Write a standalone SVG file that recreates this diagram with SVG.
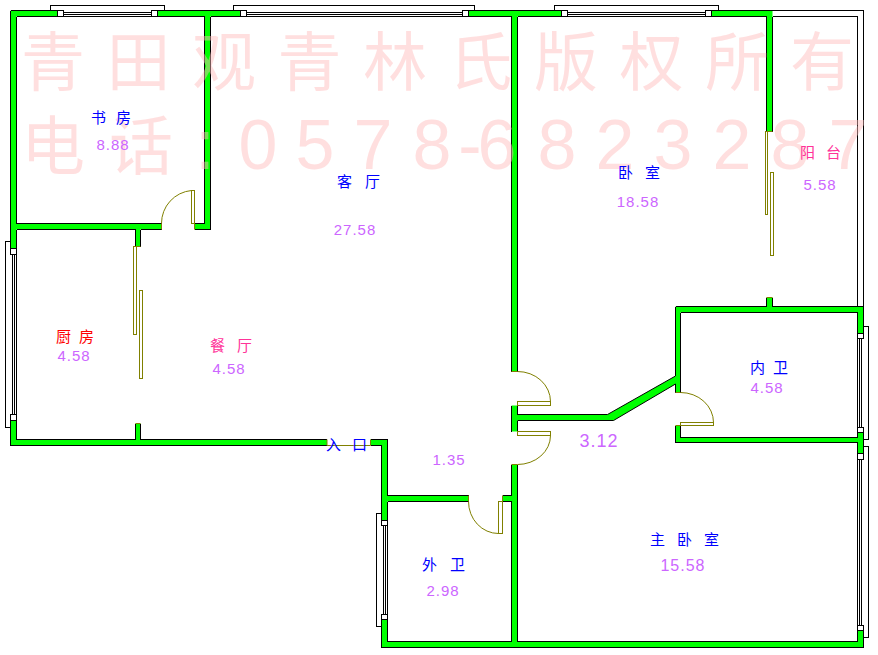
<svg xmlns="http://www.w3.org/2000/svg" width="878" height="655" viewBox="0 0 878 655">
<style>
.g{fill:#00ff00}
.k{fill:none;stroke:#000;stroke-width:1;shape-rendering:crispEdges}
.s{fill:#fff;stroke:#000;stroke-width:1;shape-rendering:crispEdges}
.d{fill:none;stroke:#808000;stroke-width:1}
.wm{fill:#ffbdbd;opacity:.47;text-anchor:middle}
.cj{font-family:"Noto Sans CJK SC","Liberation Sans",sans-serif;font-size:64px}
.la{font-family:"Liberation Sans",sans-serif;font-size:70px}
.t{font-family:"Noto Sans CJK SC",sans-serif;font-size:15px}
.n{font-family:"Liberation Sans",sans-serif;font-size:15px;fill:#cc66ff;text-anchor:middle;letter-spacing:1px}
.b{fill:#0000ff}.r{fill:#ff0000}.p{fill:#ff3399}
</style>
<rect width="878" height="655" fill="#fff"/>
<g id="walls">
<path class="g" d="M10.5 10.5H57.5V16.5H10.5ZM157.5 10.5H240.5V16.5H157.5ZM468.5 10.5H561.5V16.5H468.5ZM711.5 10.5H772.5V16.5H711.5ZM10.5 10.5H16.5V248.5H10.5ZM10.5 420.5H16.5V445.5H10.5ZM204.5 10.5H210.5V229.5H204.5ZM10.5 223.5H161.5V229.5H10.5ZM194.5 223.5H210.5V229.5H194.5ZM135.5 229.5H140.5V246.5H135.5ZM135.5 423.5H140.5V439.5H135.5ZM10.5 439.5H327V445.5H10.5ZM370.5 439.5H387.5V445.5H370.5ZM381.5 439.5H387.5V520.5H381.5ZM381.5 619.5H387.5V647.5H381.5ZM387.5 495.5H468.5V501.5H387.5ZM502.5 495.5H511.5V501.5H502.5ZM511.5 10.5H517.5V371.5H511.5ZM511.5 405.5H517.5V431.5H511.5ZM511.5 464.5H517.5V647.5H511.5ZM517.5 414.5H607.5L675.5 376V384L613.5 420.5H517.5ZM381.5 641.5H863.5V647.5H381.5ZM675.5 306.5H680.5V392.5H675.5ZM675.5 425.5H680.5V442.5H675.5ZM675.5 306.5H863.5V312.5H675.5ZM766.5 297.5H772.5V306.5H766.5ZM857.5 306.5H863.5V333.5H857.5ZM857.5 432.5H863.5V453.5H857.5ZM857.5 630.5H863.5V647.5H857.5ZM675.5 437.5H863.5V442.5H675.5ZM766.5 10.5H772.5V131.5H766.5Z"/>
<path class="k" d="M10.5 10.5H57.5M157.5 10.5H240.5M468.5 10.5H561.5M711.5 10.5H863.5M16.5 16.5H204.5M210.5 16.5H511.5M517.5 16.5H766.5M772.5 16.5H857.5M10.5 10.5V248.5M10.5 420.5V445.5M16.5 16.5V223.5M16.5 229.5V439.5M204.5 16.5V223.5M210.5 16.5V229.5M16.5 223.5H161.5M194.5 223.5H204.5M16.5 229.5H135.5M140.5 229.5H161.5M194.5 229.5H210.5M135.5 229.5V246.5M140.5 229.5V246.5M135.5 423.5V439.5M140.5 423.5V439.5M16.5 439.5H135.5M140.5 439.5H327M370.5 439.5H387.5M10.5 445.5H327M370.5 445.5H381.5M387.5 439.5V495.5M387.5 501.5V641.5M381.5 445.5V520.5M381.5 619.5V647.5M387.5 495.5H468.5M502.5 495.5H511.5M387.5 501.5H468.5M502.5 501.5H511.5M511.5 16.5V371.5M511.5 405.5V431.5M511.5 464.5V495.5M511.5 501.5V641.5M517.5 16.5V371.5M517.5 405.5V414.5M517.5 420.5V431.5M517.5 464.5V641.5M675.5 306.5V376M675.5 384V392.5M675.5 425.5V442.5M680.5 312.5V392.5M680.5 425.5V437.5M675.5 306.5H766.5M772.5 306.5H863.5M680.5 312.5H857.5M680.5 437.5H857.5M675.5 442.5H857.5M857.5 16.5V306.5M857.5 312.5V437.5M857.5 442.5V641.5M863.5 10.5V333.5M863.5 432.5V453.5M863.5 630.5V647.5M387.5 641.5H511.5M517.5 641.5H857.5M381.5 647.5H863.5M766.5 16.5V131.5M772.5 16.5V131.5M766.5 297.5V306.5M772.5 297.5V306.5"/>
<path d="M517.5 414.5H607.5L675.5 376M517.5 420.5H613.5L675.5 384" fill="none" stroke="#000" stroke-width="1"/>
</g>
<g id="windows">
<path class="k" d="M50.5 10.5V5.5H164.5V10.5M233.5 10.5V5.5H474.5V10.5M554.5 10.5V5.5H718.5V10.5M63.5 12.5H151.5M63.5 14.5H151.5M246.5 12.5H462.5M246.5 14.5H462.5M567.5 12.5H705.5M567.5 14.5H705.5M10.5 241.5H5.5V427.5H10.5M12.5 254.5V414.5M14.5 254.5V414.5M381.5 513.5H376.5V626.5H381.5M383.5 525.5V614.5M385.5 525.5V614.5M863.5 326.5H868.5V439.5H863.5M863.5 446.5H868.5V637.5H863.5M859.5 338.5V427.5M861.5 338.5V427.5M859.5 459.5V625.5M861.5 459.5V625.5"/>
<rect class="s" x="57.5" y="10.5" width="6" height="6"/>
<rect class="s" x="151.5" y="10.5" width="6" height="6"/>
<rect class="s" x="240.5" y="10.5" width="6" height="6"/>
<rect class="s" x="462.5" y="10.5" width="6" height="6"/>
<rect class="s" x="561.5" y="10.5" width="6" height="6"/>
<rect class="s" x="705.5" y="10.5" width="6" height="6"/>
<rect class="s" x="10.5" y="248.5" width="6" height="6"/>
<rect class="s" x="10.5" y="414.5" width="6" height="6"/>
<rect class="s" x="381.5" y="520.5" width="6" height="5"/>
<rect class="s" x="381.5" y="614.5" width="6" height="5"/>
<rect class="s" x="857.5" y="333.5" width="6" height="5"/>
<rect class="s" x="857.5" y="427.5" width="6" height="5"/>
<rect class="s" x="857.5" y="453.5" width="6" height="6"/>
<rect class="s" x="857.5" y="625.5" width="6" height="5"/>
</g>
<g id="doors">
<rect class="d" x="191.5" y="190.5" width="3" height="33"/>
<path class="d" d="M161.5 229.5V223.5A33 33 0 0 1 191.5 190.5M194.5 223.5V229.5"/>
<rect class="d" x="133.5" y="246.5" width="3" height="88"/>
<rect class="d" x="139.5" y="290.5" width="3" height="88"/>
<rect class="d" x="765.5" y="131.5" width="2" height="83"/>
<rect class="d" x="770.5" y="172.5" width="3" height="83"/>
<rect class="d" x="517.5" y="401.5" width="33" height="4"/>
<path class="d" d="M511.5 371.5H517.5A33 30 0 0 1 550.5 401.5"/>
<rect class="d" x="517.5" y="431.5" width="33" height="4"/>
<path class="d" d="M550.5 435.5A33 29 0 0 1 517.5 464.5H511.5"/>
<rect class="d" x="680.5" y="422.5" width="33" height="3"/>
<path class="d" d="M675.5 392.5H680.5A33 30 0 0 1 713.5 422.5M675.5 425.5H680.5"/>
<rect class="d" x="498.5" y="501.5" width="4" height="32"/>
<path class="d" d="M468.5 495.5V501.5A30 32 0 0 0 498.5 533.5M502.5 495.5V501.5"/>
<path class="d" d="M327 439.5V445.5H370.5V439.5"/>
<path class="d" d="M135.5 246.5H140.5M135.5 423.5H140.5M766.5 131.5H772.5M766.5 297.5H772.5"/>
</g>
<g id="watermark">
<text class="wm cj" y="85" x="53 138.5 224 309.5 395 480.5 566 651.5 737 822">青田观青林氏版权所有</text>
<text class="wm" y="169"><tspan class="cj" x="53 141">电话</tspan><tspan class="la" x="205 258 315 373 432 470 497 557 615 673 732 790 848">:0578-6823287</tspan></text>
</g>
<g id="labels">
<text class="t b" y="123" x="91 105 116">书 房</text>
<text class="n" x="113" y="150">8.88</text>
<text class="t b" y="187" x="337 352 365">客 厅</text>
<text class="n" x="355" y="235">27.58</text>
<text class="t b" y="178" x="618 633 645">卧 室</text>
<text class="n" x="638" y="207">18.58</text>
<text class="t p" y="158" x="800 815 826">阳 台</text>
<text class="n" x="820" y="190">5.58</text>
<text class="t r" y="342" x="56 70 79">厨 房</text>
<text class="n" x="74" y="361">4.58</text>
<text class="t p" y="351" x="210 225 237">餐 厅</text>
<text class="n" x="229" y="374">4.58</text>
<text class="t b" y="373" x="750 765 773">内 卫</text>
<text class="n" x="767" y="393">4.58</text>
<text class="n" style="font-size:18px" x="599" y="447">3.12</text>
<text class="t b" y="450" x="326 341 352">入 口</text>
<text class="n" x="449" y="465">1.35</text>
<text class="t b" y="570" x="422 437 450">外 卫</text>
<text class="n" x="443" y="596">2.98</text>
<text class="t b" y="545" x="650 665 677 690 704">主 卧 室</text>
<text class="n" style="font-size:16px" x="683" y="571">15.58</text>
</g>
</svg>
